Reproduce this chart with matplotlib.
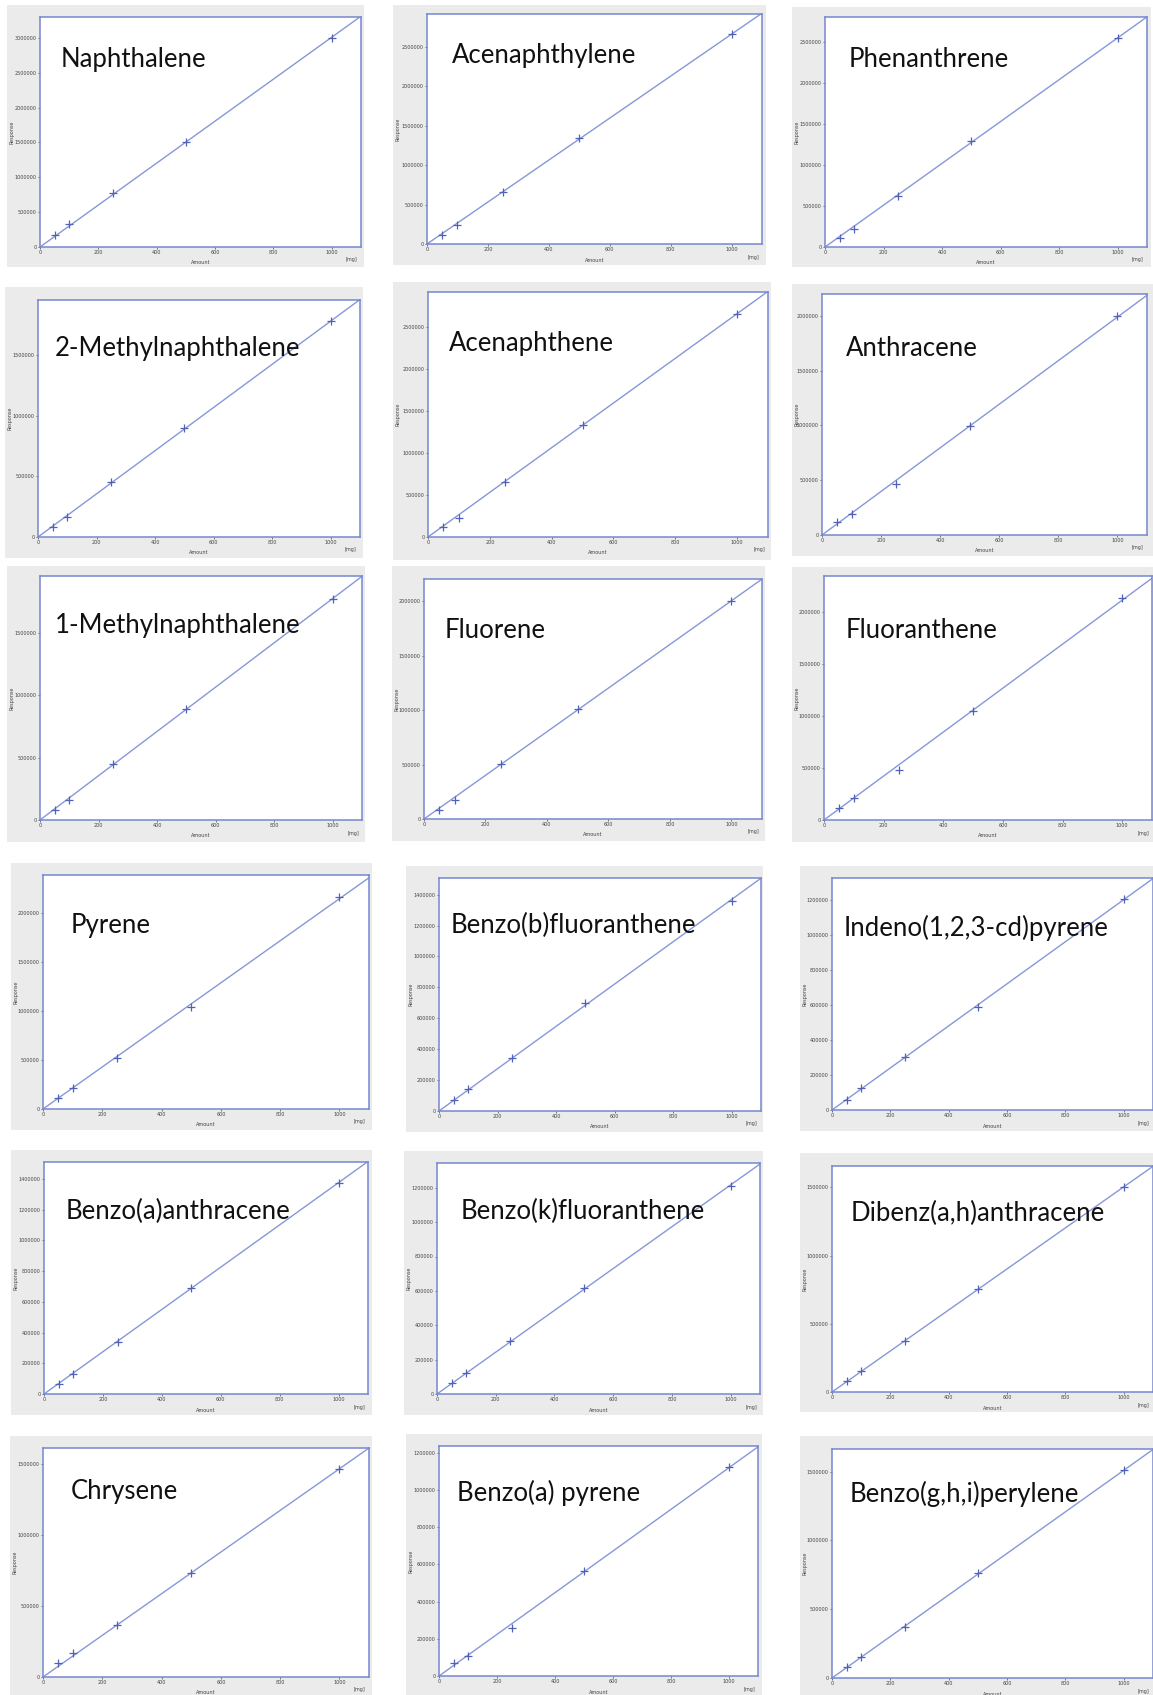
import matplotlib
matplotlib.use("Agg")
import matplotlib.pyplot as plt
from matplotlib.patches import Rectangle
import numpy as np

W, H = 1153, 1695

amounts = [50, 100, 250, 500, 1000]

names = ["Naphthalene", "Acenaphthylene", "Phenanthrene",
         "2-Methylnaphthalene", "Acenaphthene", "Anthracene",
         "1-Methylnaphthalene", "Fluorene", "Fluoranthene",
         "Pyrene", "Benzo(b)fluoranthene", "Indeno(1,2,3-cd)pyrene",
         "Benzo(a)anthracene", "Benzo(k)fluoranthene", "Dibenz(a,h)anthracene",
         "Chrysene", "Benzo(a) pyrene", "Benzo(g,h,i)perylene"]

naphthalene = [178000, 326000, 768000, 1512000, 3000000]
acenaphthylene = [110000, 237000, 660000, 1341000, 2665000]
phenanthrene = [114000, 224000, 620000, 1297000, 2549000]
methylnaph2 = [80000, 165000, 450000, 896000, 1780000]
acenaphthene = [119000, 229000, 660000, 1337000, 2658000]
anthracene = [116000, 192000, 470000, 994000, 1997000]
methylnaph1 = [80000, 160000, 445000, 892000, 1772000]
fluorene = [85000, 171000, 501000, 1011000, 2003000]
fluoranthene = [112000, 209000, 482000, 1047000, 2131000]
pyrene = [109000, 217000, 520000, 1036000, 2163000]
benzo_b_fluor = [69000, 145000, 345000, 699000, 1361000]
indeno = [57000, 128000, 305000, 590000, 1204000]
benzo_a_anth = [65000, 132000, 340000, 691000, 1376000]
benzo_k_fluor = [62000, 120000, 311000, 614000, 1212000]
dibenz = [78000, 151000, 371000, 757000, 1502000]
chrysene = [96000, 170000, 366000, 730000, 1461000]
benzo_a_pyr = [70000, 109000, 258000, 565000, 1122000]
benzo_ghi = [78000, 150000, 368000, 761000, 1510000]

responses = [naphthalene, acenaphthylene, phenanthrene,
             methylnaph2, acenaphthene, anthracene,
             methylnaph1, fluorene, fluoranthene,
             pyrene, benzo_b_fluor, indeno,
             benzo_a_anth, benzo_k_fluor, dibenz,
             chrysene, benzo_a_pyr, benzo_ghi]

y_tops = [3.30e6, 2.92e6, 2.805e6, 1.956e6, 2.915e6, 2.20e6,
          1.953e6, 2.205e6, 2.347e6, 2.384e6, 1.508e6, 1.324e6,
          1.510e6, 1.344e6, 1.656e6, 1.61e6, 1.236e6, 1.665e6]
y_steps = [500000, 500000, 500000, 500000, 500000, 500000,
           500000, 500000, 500000, 500000, 200000, 200000,
           200000, 200000, 500000, 500000, 200000, 500000]

# grey panel (x0, y0, x1, y1) and plot box (left, top, right, bottom), pixels
panels = [(7, 5, 364, 267), (393, 5, 766, 265), (792, 7, 1151, 267),
          (5, 287, 363, 558), (393, 282, 771, 560), (792, 284, 1153, 556),
          (7, 566, 365, 842), (392, 566, 765, 841), (792, 567, 1153, 842),
          (11, 863, 372, 1130), (406, 866, 763, 1132), (800, 866, 1153, 1131),
          (11, 1150, 372, 1415), (404, 1151, 763, 1415), (800, 1153, 1153, 1412),
          (10, 1436, 372, 1695), (406, 1434, 762, 1695), (800, 1436, 1153, 1695)]
boxes = [(40, 17, 361, 247), (427, 14, 762, 244), (825, 17, 1147, 247),
         (38, 300, 360, 537), (428, 292, 768, 537), (822, 294, 1147, 535),
         (40, 576, 362, 820), (424, 579, 762, 819), (824, 576, 1152, 820),
         (43, 875, 369, 1109), (439, 878, 761, 1111), (832, 878, 1153, 1110),
         (44, 1162, 368, 1394), (437, 1163, 760, 1394), (832, 1166, 1153, 1392),
         (43, 1448, 369, 1677), (439, 1446, 758, 1676), (832, 1449, 1153, 1678)]
title_pos = [(61, 67), (452, 63), (849, 67),
             (55, 356), (449, 351), (846, 356),
             (55, 633), (445, 638), (846, 638),
             (71, 933), (451, 933), (844, 936),
             (66, 1219), (461, 1219), (851, 1221),
             (71, 1499), (457, 1501), (850, 1502)]

spine_c = "#7587cf"
line_c = "#8797d8"
mark_c = "#5062b8"

fig = plt.figure(figsize=(W / 100, H / 100), dpi=100)
fig.patch.set_facecolor("white")

x = np.array(amounts, dtype=float)
for i in range(18):
    x0, y0, x1, y1 = panels[i]
    fig.add_artist(Rectangle((x0 / W, 1 - y1 / H), (x1 - x0) / W, (y1 - y0) / H,
                             transform=fig.transFigure, facecolor="#ebebeb",
                             edgecolor="none", zorder=0))
    l, t, r, b = boxes[i]
    ax = fig.add_axes([l / W, 1 - b / H, (r - l) / W, (b - t) / H])
    y = np.array(responses[i], dtype=float)
    # calibration line through origin
    slope = np.sum(x * y) / np.sum(x * x)
    xs = np.array([0, 1100])
    ax.plot(xs, slope * xs, color=line_c, lw=1.0)
    ax.plot(x, y, "+", color=mark_c, ms=6, mew=0.9)
    ax.set_xlim(0, 1100)
    ax.set_ylim(0, y_tops[i])
    ax.set_xticks(np.arange(0, 1001, 200))
    ax.set_yticks(np.arange(0, y_tops[i], y_steps[i]))
    ax.yaxis.set_major_formatter(plt.FuncFormatter(lambda v, p: "%d" % v))
    ax.tick_params(labelsize=3.5, length=1.5, width=0.5, pad=1,
                   colors="#444444")
    for s in ax.spines.values():
        s.set_color(spine_c)
        s.set_linewidth(1.1)
    fig.text((l + r) / 2 / W, 1 - (b + 16) / H, "Amount", fontsize=3.5,
             color="#444444", ha="center", va="center")
    fig.text((r - 9) / W, 1 - (b + 13) / H, "[mg]", fontsize=3.5,
             color="#444444", ha="center", va="center")
    fig.text((x0 + 5) / W, 1 - (t + b) / 2 / H, "Response", fontsize=3.5,
             color="#444444", ha="center", va="center", rotation=90)
    tx, ty = title_pos[i]
    fig.text(tx / W, 1 - ty / H, names[i], fontsize=18.5, family="Lato",
             color="#111111", ha="left", va="baseline", zorder=5)

fig.savefig("out.png", dpi=100)
